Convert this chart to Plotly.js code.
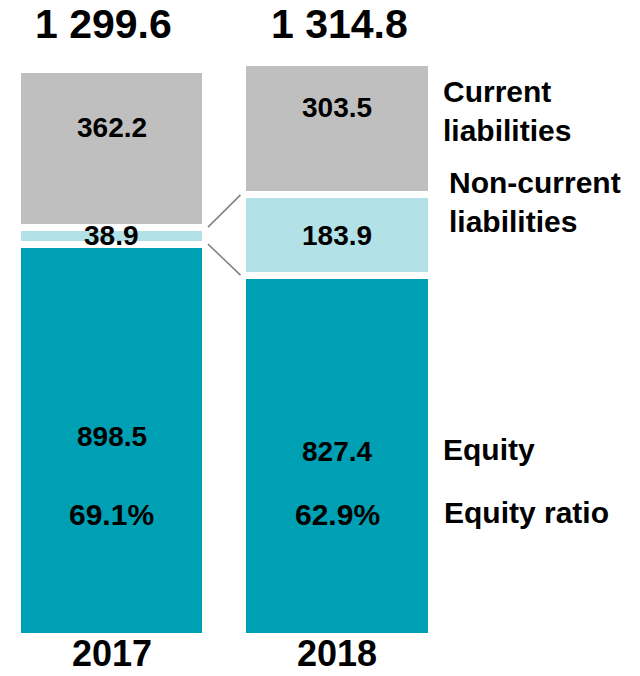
<!DOCTYPE html>
<html>
<head>
<meta charset="utf-8">
<script src="https://cdn.plot.ly/plotly-3.0.1.min.js"></script>
<style>body{margin:0;background:#fff}</style>
</head>
<body>
<div id="chart" style="width:640px;height:676px"></div>
<script>
// ---- data ----
const years = ['2017', '2018'];
const equity = [898.5, 827.4];
const nonCurrent = [38.9, 183.9];
const current = [362.2, 303.5];
const totalLabels = ['1 299.6', '1 314.8'];
const equityRatio = ['69.1%', '62.9%'];
const sideLabels = ['Current<br>liabilities', 'Non-current<br>liabilities', 'Equity', 'Equity ratio'];

// ---- style ----
const FONT = 'Liberation Sans, Arial, Helvetica, sans-serif';
const C_EQ = '#00A0B4', C_NC = '#B2E1E7', C_CUR = '#BFBFBF', C_LINE = '#808080';
const BAR_W = 0.834;
const GAP = 7;
const xpos = years.map((_, i) => i);
const plotTop = 40, plotBottom = 636, plotH = plotBottom - plotTop;
const paperY = p => (plotBottom - p) / plotH;

const bar = (vals, color) => ({
  type: 'bar', x: xpos, y: vals, width: BAR_W,
  marker: {color: color, line: {color: '#ffffff', width: GAP}},
  hoverinfo: 'skip', showlegend: false
});

const traces = [bar(equity, C_EQ), bar(nonCurrent, C_NC), bar(current, C_CUR)];

// connector lines between the non-current segments
const half = BAR_W / 2 + 0.011;
const lower = equity;
const upper = equity.map((v, i) => v + nonCurrent[i]);
[lower, upper].forEach(b => {
  traces.push({
    type: 'scatter', mode: 'lines',
    x: [xpos[0] + half, xpos[1] - half], y: [b[0], b[1]],
    line: {color: C_LINE, width: 1.5}, hoverinfo: 'skip', showlegend: false
  });
});

const ann = [];
const txt = (x, y, text, size, extra) => Object.assign({
  x: x, y: y, xref: 'x', yref: 'y', text: text, showarrow: false,
  font: {family: FONT, size: size, color: '#000', weight: 700},
  xanchor: 'center', yanchor: 'middle'
}, extra || {});

xpos.forEach((x, i) => {
  ann.push(txt(x, equity[i] / 2, equity[i].toFixed(1), 28, {yshift: 4}));
  ann.push(txt(x, equity[i] + nonCurrent[i] / 2, nonCurrent[i].toFixed(1), 28));
  ann.push(txt(x, equity[i] + nonCurrent[i] + current[i] / 2, current[i].toFixed(1), 28, {yshift: 21}));
  ann.push(txt(x, paperY(514), equityRatio[i], 30, {yref: 'paper'}));
  ann.push(txt(x, paperY(24), totalLabels[i], 41, {yref: 'paper', xshift: i === 0 ? -8 : 2}));
  ann.push(txt(x, paperY(675.5), years[i], 36, {yref: 'paper', yanchor: 'bottom'}));
});

// side labels (centre pixel rows)
const sideRows = [111, 201.5, 449.5, 512.5];
const sideX = [1.463, 1.49, 1.463, 1.465];
sideLabels.forEach((t, k) => {
  ann.push(txt(sideX[k], paperY(sideRows[k]), t, 30, {yref: 'paper', xanchor: 'left', align: 'left'}));
});

const layout = {
  width: 640, height: 676,
  margin: {l: 0, r: 0, t: plotTop, b: 676 - plotBottom, pad: 0},
  paper_bgcolor: '#fff', plot_bgcolor: '#fff',
  barmode: 'stack', bargap: 0,
  showlegend: false,
  xaxis: {
    range: [-111.5 / 225.5, 528.5 / 225.5],
    showticklabels: false,
    showgrid: false, zeroline: false, showline: false, ticks: '',
    fixedrange: true
  },
  yaxis: {
    range: [0, 1366.4],
    visible: false, showgrid: false, zeroline: false, fixedrange: true
  },
  annotations: ann
};

Plotly.newPlot('chart', traces, layout, {displayModeBar: false, staticPlot: true});
</script>
</body>
</html>
